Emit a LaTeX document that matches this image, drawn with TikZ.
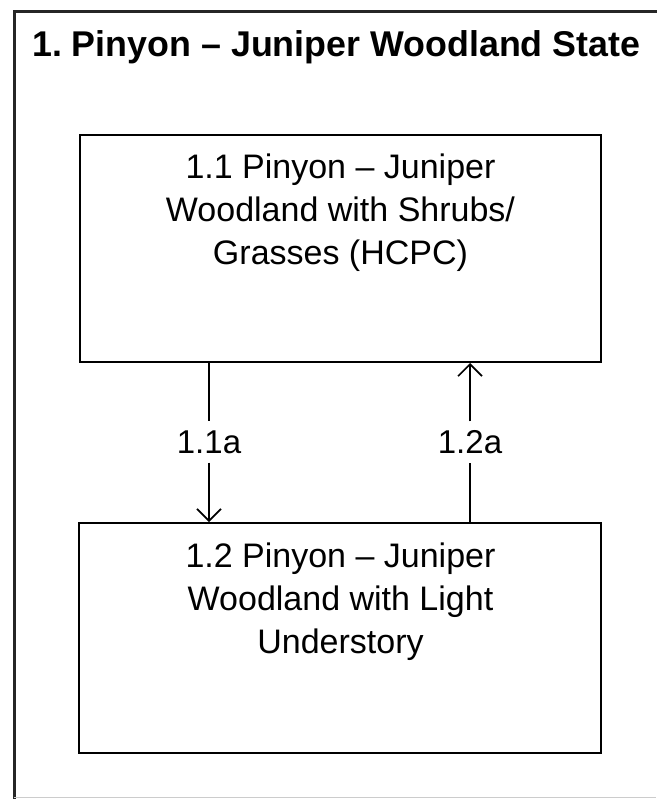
\documentclass[tikz,border=0pt]{standalone}
\usepackage{fontspec}
\setmainfont{Liberation Sans}
\frenchspacing
\usetikzlibrary{arrows.meta,calc}
\begin{document}
\begin{tikzpicture}[x=1pt,y=-1pt,
  statebox/.style={draw=black,line width=2pt},
  boxtext/.style={align=center,inner sep=0pt,anchor=base,font=\fontsize{34}{43}\selectfont},
  trlabel/.style={fill=white,inner sep=0pt,minimum height=41pt,font=\fontsize{33}{40}\selectfont},
  conn/.style={line width=1.6pt,-{Straight Barb[length=12pt,width=24pt,line width=1.6pt]}},
  connplain/.style={line width=1.6pt}
]
\useasboundingbox (0,0) rectangle (656,799);
\fill[white] (0,0) rectangle (656,799);
% outer frame
\draw[black!85,line width=3pt] (14,799) -- (14,12) -- (660,12);
\draw[black!20,line width=1pt] (14,797) -- (656,797);
% title
\node[anchor=base west,inner sep=0pt,font=\bfseries\fontsize{35.8}{40}\selectfont] (title) at (32,57) {1. Pinyon -- Juniper Woodland State};
% boxes
\node[statebox,minimum width=521pt,minimum height=227pt,inner sep=0pt] (b1) at (340.5,248.5) {};
\node[statebox,minimum width=522pt,minimum height=230pt,inner sep=0pt] (b2) at (340,638) {};
\node[boxtext] (t1) at (340.5,265) {1.1 Pinyon -- Juniper\\Woodland with Shrubs/\\Grasses (HCPC)};
\node[boxtext] (t2) at (340.5,653) {1.2 Pinyon -- Juniper\\Woodland with Light\\Understory};
% transitions
\node[trlabel] (l1) at (209,442) {1.1a};
\node[trlabel] (l2) at (470,442) {1.2a};
\draw[connplain] (b1.south -| l1) -- (l1.north);
\draw[conn] (l1.south) -- (b2.north -| l1);
\draw[connplain] (b2.north -| l2) -- (l2.south);
\draw[conn] (l2.north) -- (b1.south -| l2);
\end{tikzpicture}
\end{document}
